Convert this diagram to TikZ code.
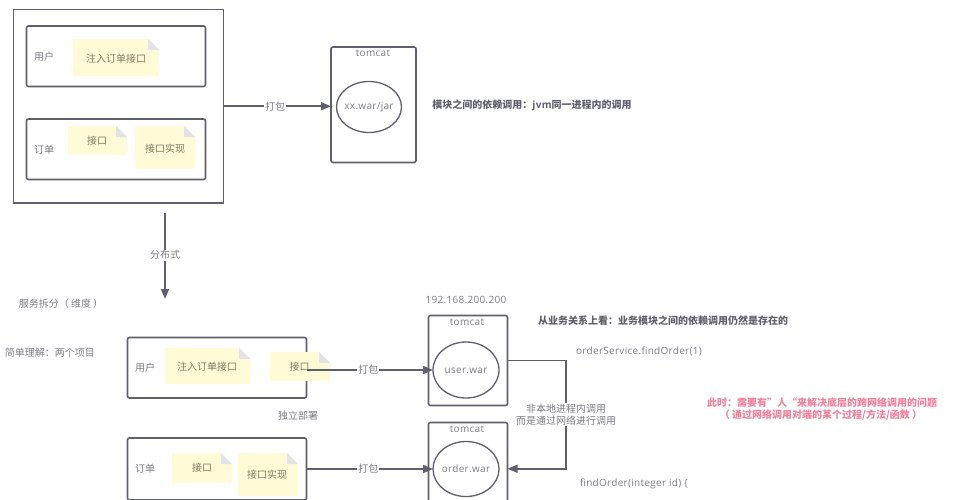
\documentclass[tikz,border=0pt]{standalone}
\usepackage{fontspec}
\setmainfont{Noto Sans CJK SC}
\newfontfamily\latinf[LetterSpace=3]{Open Sans}
\usetikzlibrary{arrows.meta,fit,shapes.geometric}
\definecolor{linec}{HTML}{5F5F6E}
\definecolor{textc}{HTML}{7B7B87}
\definecolor{notef}{HTML}{FFFBD6}
\definecolor{foldc}{HTML}{E3E2E6}
\definecolor{notet}{HTML}{7D7A62}
\definecolor{pinkc}{HTML}{F2809B}
\tikzset{
  boxn/.style={draw=linec,line width=1.6pt,rounded corners=2pt,inner sep=0pt,outer sep=0pt,fill=white},
  sqbox/.style={boxn,rounded corners=0pt,line width=1.8pt},
  warn/.style={draw=linec,line width=1.3pt,ellipse,inner sep=0pt,outer sep=0pt,fill=white},
  conn/.style={draw=linec,line width=1.5pt},
  arr/.style={conn,-{Triangle[length=10pt,width=8pt]}},
  lbl/.style={text=textc,font=\fontsize{10}{12}\selectfont,inner sep=1pt},
  lblw/.style={lbl,fill=white},
  lat/.style={text=textc,font=\latinf\fontsize{10}{12}\selectfont,inner sep=0pt},
  strong/.style={text=linec,font=\bfseries\fontsize{10}{12}\selectfont,inner sep=0pt},
  pink/.style={text=pinkc,font=\bfseries\fontsize{10}{12}\selectfont,inner sep=0pt},
  ntext/.style={text=notet,font=\fontsize{10}{12}\selectfont,inner sep=0pt},
}
% name, x1, y1, x2, y2, text x, text y, text
\newcommand{\stickynote}[8]{%
  \fill[notef] (#2,#3) -- (#4-11,#3) -- (#4,#3+11) -- (#4,#5) -- (#2,#5) -- cycle;
  \fill[foldc] (#4-11,#3) -- (#4,#3+11) -- (#4-11,#3+11) -- cycle;
  \node[ntext] (#1) at (#6,#7) {#8};
}
\begin{document}
\begin{tikzpicture}[x=1pt,y=-1pt]
\useasboundingbox (0,0) rectangle (960,500);
\clip (0,0) rectangle (960,500);
% top group
\node[sqbox,fit={(13.5,9.5) (223.5,203)}] (outer) {};
\node[boxn,fit={(26.5,26) (205.5,86.5)}] (ubox1) {};
\node[boxn,fit={(26.5,119) (205.5,179.5)}] (obox1) {};
\node[lbl] (ul1) at (44,57) {用户};
\node[lbl] (ol1) at (44,150) {订单};
\stickynote{n1}{73}{39}{159}{76}{116}{59}{注入订单接口}
\stickynote{n2}{68}{126}{127}{155}{97}{141}{接口}
\stickynote{n3}{135}{126}{195}{169}{165}{149}{接口实现}
% tomcat top
\node[boxn,fit={(331,47) (416,162.5)}] (tc1) {};
\node[lat] (tc1t) at (373,53.5) {tomcat};
\node[warn,minimum width=65pt,minimum height=51pt] (war1) at (369,107) {};
\node[lat] (war1t) at (369,107.5) {xx.war/jar};
\draw[arr] (outer.east) -- node[lblw,pos=.48] (pk1) {打包} (outer.east -| tc1.west);
\node[strong] (m1) at (532,105.5) {模块之间的依赖调用：{\latinf jvm}同一进程内的调用};
% distributed
\coordinate (dA) at (165,213);
\coordinate (dB) at (165,299);
\draw[arr] (dA) -- node[lblw,pos=.49] (fbs) {分布式} (dB);
\node[lbl] (s1) at (61,304) {服务拆分（ 维度 ）};
\node[lbl] (s2) at (50,353) {简单理解：两个项目};
\node[lat] (ip) at (466,299.5) {192.168.200.200};
% lower boxes
\node[boxn,fit={(127.5,337.5) (306.5,398)}] (ubox) {};
\node[boxn,fit={(127.5,438) (306.5,500)}] (obox) {};
\node[lbl] (ul) at (145,368) {用户};
\node[lbl] (ol) at (145,469) {订单};
\stickynote{n4}{165}{348}{250}{384}{207}{367}{注入订单接口}
\stickynote{n5}{270}{352}{330}{381}{299.5}{367}{接口}
\stickynote{n6}{172}{453}{232}{483}{202}{468}{接口}
\stickynote{n7}{238}{453}{298}{496}{267}{475}{接口实现}
\node[lbl] (dep) at (298,416) {独立部署};
% tomcats
\node[boxn,fit={(428.5,315.5) (507.5,405.5)}] (tcu) {};
\node[lat] (tcut) at (467,322.5) {tomcat};
\node[warn,minimum width=66pt,minimum height=56pt] (uwar) at (466,370) {};
\node[lat] (uwart) at (466,370.5) {user.war};
\node[boxn,fit={(428.5,422.5) (507.5,515)}] (tco) {};
\node[lat] (tcot) at (467,429.5) {tomcat};
\node[warn,minimum width=66pt,minimum height=55pt] (owar) at (466,469) {};
\node[lat] (owart) at (466,469) {order.war};
\draw[arr] (ubox.east |- uwar.west) -- node[lblw,pos=.49] (pk2) {打包} (uwar.west);
\draw[arr] (obox.east |- owar.west) -- node[lblw,pos=.49] (pk3) {打包} (owar.west);
% cross-process connector
\coordinate (bA) at (566,0 |- tcu.east);
\coordinate (bB) at (566,0 |- tco.east);
\draw[arr] (tcu.east) -- (tcu.east -| bA) -- node[lblw,align=center,pos=.5] (rpc) {非本地进程内调用\\而是通过网络进行调用} (tco.east -| bA) -- (tco.east);
% free text
\node[strong] (m2) at (663,320.5) {从业务关系上看：业务模块之间的依赖调用仍然是存在的};
\node[lat] (c1) at (639,351.5) {orderService.findOrder(1)};
\node[lat] (c2) at (634,483.5) {findOrder(integer id) \{};
\node[pink] (p1) at (822,403) {此时：需要有”人“来解决底层的跨网络调用的问题};
\node[pink] (p2) at (821,415.5) {（ 通过网络调用对端的某个过程/方法/函数 ）};
\end{tikzpicture}
\end{document}
